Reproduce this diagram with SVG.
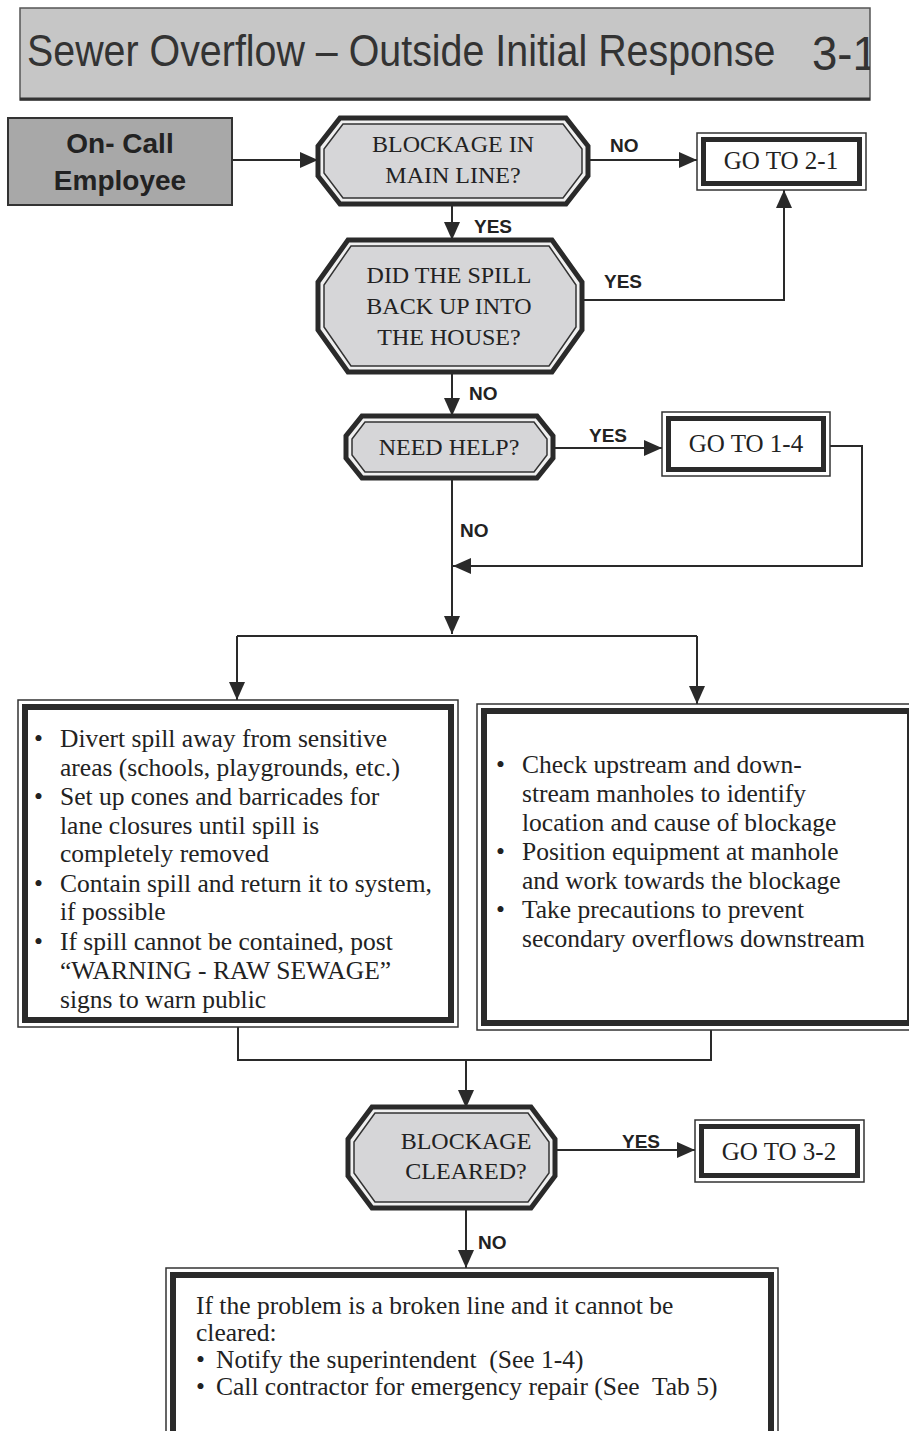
<svg xmlns="http://www.w3.org/2000/svg" width="909" height="1431" viewBox="0 0 909 1431">
<style>
.ser{font-family:"Liberation Serif","Times New Roman",serif;fill:#222;}
.node{font-size:24px;text-anchor:middle;}
.go{font-size:25px;text-anchor:middle;}
.body{font-size:25.5px;}
.lbl{font-family:"Liberation Sans",Arial,sans-serif;font-weight:bold;font-size:19px;fill:#222;}
.conn{fill:none;stroke:#2a2a2a;stroke-width:2;}
.octo{fill:#f0f0f0;stroke:#2a2a2a;stroke-width:5;stroke-linejoin:miter;}
.octi{fill:#d6d6d8;stroke:#333;stroke-width:1.5;}
.bo{fill:#fff;stroke:#333;stroke-width:1.5;}
.bi{fill:#fff;stroke:#2a2a2a;stroke-width:5;}
.bi2{fill:#fff;stroke:#2a2a2a;stroke-width:6;}
</style>
<defs>
<marker id="ah" viewBox="0 0 18 16" refX="18" refY="8" markerWidth="18" markerHeight="16" markerUnits="userSpaceOnUse" orient="auto">
<path d="M0,0 L18,8 L0,16 Z" fill="#2a2a2a"/>
</marker>
<clipPath id="hc"><rect x="20" y="8" width="850" height="92"/></clipPath>
</defs>
<rect width="909" height="1431" fill="#fff"/>

<g id="header">
<rect x="20" y="8" width="850" height="92" fill="#c6c6c6" stroke="#555" stroke-width="1.5"/>
<line x1="20" y1="99" x2="870" y2="99" stroke="#333" stroke-width="3"/>
<g clip-path="url(#hc)">
<text transform="translate(27,66) scale(0.895,1)" x="0" y="0" font-family="'Liberation Sans',Arial,sans-serif" font-size="44" fill="#333">Sewer Overflow – Outside Initial Response</text>
<text transform="translate(812,70) scale(0.95,1)" x="0" y="0" font-family="'Liberation Sans',Arial,sans-serif" font-size="48" fill="#333">3-1</text>
</g>
</g>

<g id="connectors">
<path class="conn" d="M232,160 H318" marker-end="url(#ah)"/>
<path class="conn" d="M588,160 H697" marker-end="url(#ah)"/>
<path class="conn" d="M452,204 V240" marker-end="url(#ah)"/>
<path class="conn" d="M582,300 H784 V190" marker-end="url(#ah)"/>
<path class="conn" d="M452,372 V416" marker-end="url(#ah)"/>
<path class="conn" d="M553,448 H662" marker-end="url(#ah)"/>
<path class="conn" d="M830,446 H862 V566 H453" marker-end="url(#ah)"/>
<path class="conn" d="M452,478 V634" marker-end="url(#ah)"/>
<path class="conn" d="M237,636 H697"/>
<path class="conn" d="M237,636 V700" marker-end="url(#ah)"/>
<path class="conn" d="M697,636 V704" marker-end="url(#ah)"/>
<path class="conn" d="M238,1027 V1060 H711 V1030"/>
<path class="conn" d="M466,1060 V1108" marker-end="url(#ah)"/>
<path class="conn" d="M555,1150 H695" marker-end="url(#ah)"/>
<path class="conn" d="M466,1208 V1268" marker-end="url(#ah)"/>
<text class="lbl" x="610" y="152">NO</text>
<text class="lbl" x="474" y="233">YES</text>
<text class="lbl" x="604" y="288">YES</text>
<text class="lbl" x="469" y="400">NO</text>
<text class="lbl" x="589" y="442">YES</text>
<text class="lbl" x="460" y="537">NO</text>
<text class="lbl" x="622" y="1148">YES</text>
<text class="lbl" x="478" y="1249">NO</text>
</g>

<g id="on-call">
<rect x="8" y="118" width="224" height="87" fill="#a8a8a8" stroke="#333" stroke-width="2"/>
<text x="120" y="153" font-family="'Liberation Sans',Arial,sans-serif" font-weight="bold" font-size="28" fill="#222" text-anchor="middle">On- Call</text>
<text x="120" y="190" font-family="'Liberation Sans',Arial,sans-serif" font-weight="bold" font-size="28" fill="#222" text-anchor="middle">Employee</text>
</g>

<g id="d-main-line">
<polygon class="octo" points="340,118 566,118 588,146 588,176 566,204 340,204 318,176 318,146"/>
<polygon class="octi" points="343,124 563,124 582,149 582,173 563,198 343,198 324,173 324,149"/>
<text class="ser node" x="453" y="152">BLOCKAGE IN</text>
<text class="ser node" x="453" y="183">MAIN LINE?</text>
</g>

<g id="goto-2-1">
<rect class="bo" x="697" y="133" width="169" height="57"/>
<rect class="bi" x="703.5" y="139.5" width="156" height="44"/>
<text class="ser go" x="781" y="169">GO TO 2-1</text>
</g>

<g id="d-spill-house">
<polygon class="octo" points="348,240 552,240 582,282 582,330 552,372 348,372 318,330 318,282"/>
<polygon class="octi" points="351,246 549,246 576,285 576,327 549,366 351,366 324,327 324,285"/>
<text class="ser node" x="449" y="283">DID THE SPILL</text>
<text class="ser node" x="449" y="314">BACK UP INTO</text>
<text class="ser node" x="449" y="345">THE HOUSE?</text>
</g>

<g id="d-need-help">
<polygon class="octo" points="362,416 537,416 553,436 553,458 537,478 362,478 346,458 346,436"/>
<polygon class="octi" points="365,422 534,422 547,439 547,455 534,472 365,472 352,455 352,439"/>
<text class="ser node" x="449" y="455">NEED HELP?</text>
</g>

<g id="goto-1-4">
<rect class="bo" x="662" y="412" width="168" height="64"/>
<rect class="bi" x="668.5" y="418.5" width="155" height="51"/>
<text class="ser go" x="746" y="452">GO TO 1-4</text>
</g>

<g id="box-left">
<rect class="bo" x="18" y="700" width="440" height="327"/>
<rect class="bi2" x="25" y="707" width="426" height="313"/>
<g class="ser body">
<text x="34" y="747">•</text><text x="60" y="747">Divert spill away from sensitive</text>
<text x="60" y="776">areas (schools, playgrounds, etc.)</text>
<text x="34" y="805">•</text><text x="60" y="805">Set up cones and barricades for</text>
<text x="60" y="834">lane closures until spill is</text>
<text x="60" y="862">completely removed</text>
<text x="34" y="892">•</text><text x="60" y="892">Contain spill and return it to system,</text>
<text x="60" y="920">if possible</text>
<text x="34" y="950">•</text><text x="60" y="950">If spill cannot be contained, post</text>
<text x="60" y="979">“WARNING - RAW SEWAGE”</text>
<text x="60" y="1008">signs to warn public</text>
</g>
</g>

<g id="box-right">
<rect class="bo" x="477" y="704" width="440" height="326"/>
<rect class="bi2" x="484" y="711" width="426" height="312"/>
<g class="ser body">
<text x="496" y="773">•</text><text x="522" y="773">Check upstream and down-</text>
<text x="522" y="802">stream manholes to identify</text>
<text x="522" y="831">location and cause of blockage</text>
<text x="496" y="860">•</text><text x="522" y="860">Position equipment at manhole</text>
<text x="522" y="889">and work towards the blockage</text>
<text x="496" y="918">•</text><text x="522" y="918">Take precautions to prevent</text>
<text x="522" y="947">secondary overflows downstream</text>
</g>
</g>

<g id="d-cleared">
<polygon class="octo" points="372,1107 531,1107 555,1139 555,1176 531,1208 372,1208 348,1176 348,1139"/>
<polygon class="octi" points="375,1113 528,1113 549,1142 549,1173 528,1202 375,1202 354,1173 354,1142"/>
<text class="ser node" x="466" y="1149">BLOCKAGE</text>
<text class="ser node" x="466" y="1179">CLEARED?</text>
</g>

<g id="goto-3-2">
<rect class="bo" x="695" y="1120" width="169" height="62"/>
<rect class="bi" x="701.5" y="1126.5" width="156" height="49"/>
<text class="ser go" x="779" y="1160">GO TO 3-2</text>
</g>

<g id="box-bottom">
<rect class="bo" x="166" y="1268" width="612" height="175"/>
<rect class="bi2" x="173" y="1275" width="598" height="161"/>
<g class="ser body">
<text x="196" y="1314">If the problem is a broken line and it cannot be</text>
<text x="196" y="1341">cleared:</text>
<text x="196" y="1368">•</text><text x="216" y="1368" style="white-space:pre">Notify the superintendent  (See 1-4)</text>
<text x="196" y="1395">•</text><text x="216" y="1395" style="white-space:pre">Call contractor for emergency repair (See  Tab 5)</text>
</g>
</g>
</svg>
